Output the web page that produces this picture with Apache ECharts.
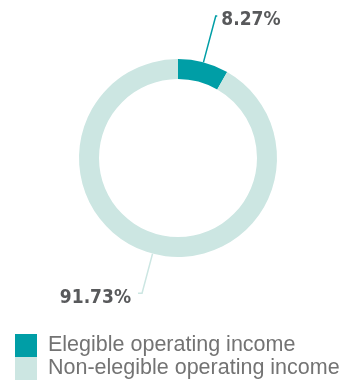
<!DOCTYPE html>
<html>
<head>
<meta charset="utf-8">
<style>
  html, body { margin: 0; padding: 0; background: #fff; }
  #chart { width: 347px; height: 381px; }
</style>
<script src="https://cdn.jsdelivr.net/npm/echarts@6/dist/echarts.min.js"></script>
</head>
<body>
<div id="chart"></div>
<script>
// Share of operating income by eligibility
const categories = ['Elegible operating income', 'Non-elegible operating income'];
const shares = [8.27, 91.73];
const colors = ['#009ea6', '#cce6e2'];

const chart = echarts.init(document.getElementById('chart'), null, { renderer: 'canvas' });

// One legend block per category, stacked under the ring
const legendRowTop = [334, 357];
const legendBlocks = categories.map((name, i) => ({
  left: 15,
  top: legendRowTop[i],
  padding: 0,
  itemWidth: 22,
  itemHeight: 23,
  icon: 'rect',
  selectedMode: false,
  textStyle: {
    fontFamily: 'Liberation Sans',
    fontSize: 21.5,
    color: '#737373',
    padding: [3, 0, 0, 6]
  },
  data: [name]
}));

// Leader-line settings per slice
const lineLength = [48, 41];
const lineLength2 = [1.5, 4];
const labelGap = [4, 7];

chart.setOption({
  animation: false,
  color: colors,
  legend: legendBlocks,
  series: [{
    type: 'pie',
    center: [178, 158],
    radius: [79, 99],
    startAngle: 90,
    clockwise: true,
    avoidLabelOverlap: false,
    emphasis: { disabled: true },
    silent: true,
    label: {
      show: true,
      position: 'outside',
      // a thin spacer line above the value sits the number a little below the line end
      formatter: p => '{s|}\n{v|' + p.value.toFixed(2) + '%}',
      rich: {
        s: { height: 9, lineHeight: 9, fontSize: 1 },
        v: {
          fontFamily: 'DejaVu Sans Condensed',
          fontWeight: 'bold',
          fontSize: 19,
          lineHeight: 22,
          color: '#58595b'
        }
      }
    },
    labelLine: {
      show: true,
      lineStyle: { width: 1.5 }
    },
    data: categories.map((name, i) => ({
      name,
      value: shares[i],
      label: { distanceToLabelLine: labelGap[i] },
      labelLine: { length: lineLength[i], length2: lineLength2[i] }
    }))
  }]
});
</script>
</body>
</html>
